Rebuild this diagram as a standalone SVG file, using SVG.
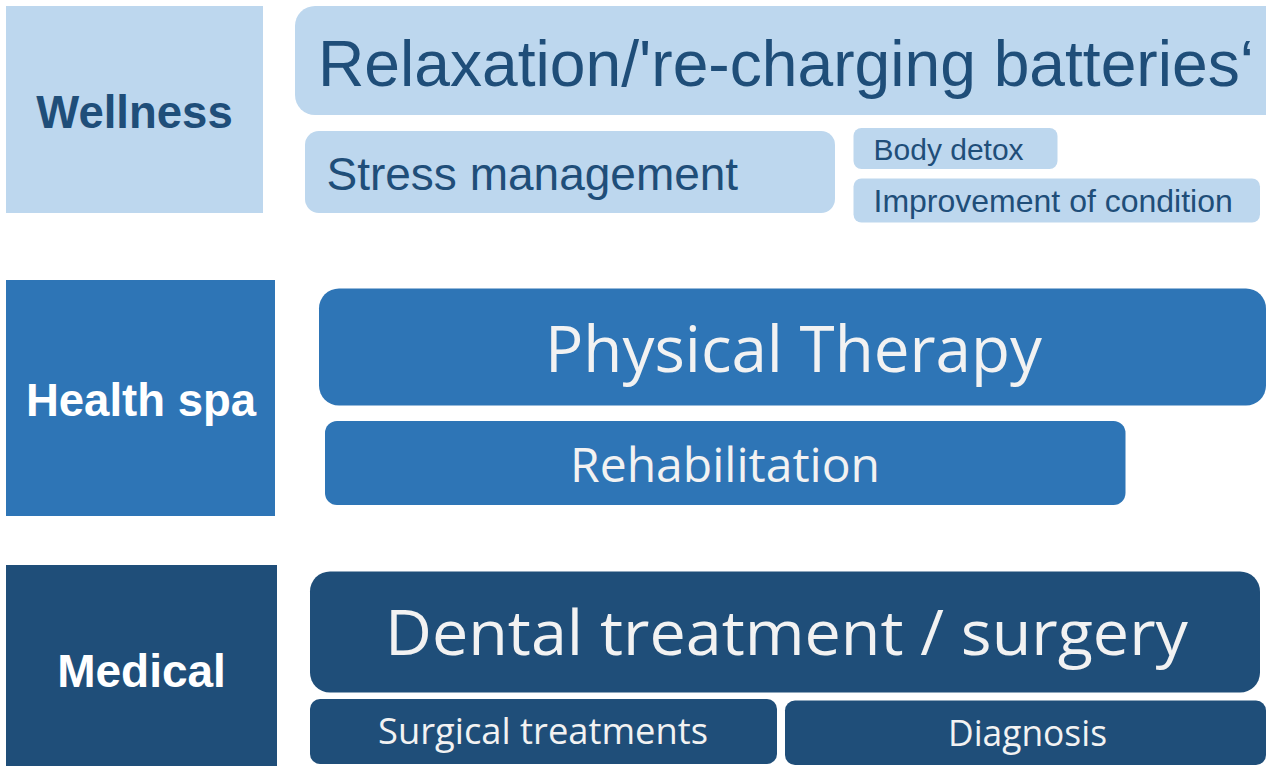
<svg xmlns="http://www.w3.org/2000/svg" width="1266" height="766" viewBox="0 0 1266 766">
  <style>
    .wel { fill: #BDD7EE; }
    .spa { fill: #2E75B6; }
    .med { fill: #1F4E79; }
    .head { font-family: "Liberation Sans", Arial, sans-serif; font-weight: bold; text-anchor: middle; }
    .arial { font-family: "Liberation Sans", Arial, sans-serif; fill: #1F4E79; }
    .soft { font-family: "Open Sans", "Noto Sans", sans-serif; fill: #F2F2F2; text-anchor: middle; }
  </style>
  <rect width="1266" height="766" fill="#FFFFFF"/>

  <!-- Wellness tier -->
  <g id="wellness">
    <rect class="wel" x="6" y="6" width="257" height="207"/>
    <text class="head" x="134.5" y="128" font-size="45.5" fill="#1F4E79">Wellness</text>
  </g>
  <g id="relaxation">
    <rect class="wel" x="295" y="6" width="1000" height="109" rx="20"/>
    <text class="arial" x="318" y="86" font-size="64" textLength="936" lengthAdjust="spacingAndGlyphs">Relaxation/'re-charging  batteries‘</text>
  </g>
  <g id="stress">
    <rect class="wel" x="305" y="131" width="530" height="82" rx="14"/>
    <text class="arial" x="326.5" y="190" font-size="46">Stress management</text>
  </g>
  <g id="detox">
    <rect class="wel" x="853.5" y="128" width="204" height="41" rx="8"/>
    <text class="arial" x="873.5" y="160" font-size="30">Body detox</text>
  </g>
  <g id="condition">
    <rect class="wel" x="853.5" y="178.5" width="406.5" height="44" rx="8"/>
    <text class="arial" x="873.5" y="212" font-size="32">Improvement of condition</text>
  </g>

  <!-- Health spa tier -->
  <g id="health-spa">
    <rect class="spa" x="6" y="280" width="269" height="236"/>
    <text class="head" x="141" y="415.5" font-size="45.5" fill="#FFFFFF">Health spa</text>
  </g>
  <g id="physical-therapy">
    <rect class="spa" x="319" y="288.5" width="947" height="117" rx="20"/>
    <text class="soft" x="793.5" y="372" font-size="64" textLength="497" lengthAdjust="spacingAndGlyphs">Physical Therapy</text>
  </g>
  <g id="rehabilitation">
    <rect class="spa" x="325" y="421" width="800.5" height="84" rx="12"/>
    <text class="soft" x="725" y="482" font-size="47" textLength="310" lengthAdjust="spacingAndGlyphs">Rehabilitation</text>
  </g>

  <!-- Medical tier -->
  <g id="medical">
    <rect class="med" x="6" y="565" width="271" height="210"/>
    <text class="head" x="141.5" y="686.5" font-size="46" fill="#FFFFFF">Medical</text>
  </g>
  <g id="dental">
    <rect class="med" x="310" y="571.5" width="950" height="121" rx="20"/>
    <text class="soft" x="786.5" y="655" font-size="63" textLength="803" lengthAdjust="spacingAndGlyphs">Dental treatment / surgery</text>
  </g>
  <g id="surgical">
    <rect class="med" x="310" y="699" width="467" height="65" rx="10"/>
    <text class="soft" x="543" y="744" font-size="37" textLength="330" lengthAdjust="spacingAndGlyphs">Surgical treatments</text>
  </g>
  <g id="diagnosis">
    <rect class="med" x="785" y="700.5" width="481" height="64.5" rx="10"/>
    <text class="soft" x="1027.5" y="746" font-size="37" textLength="159" lengthAdjust="spacingAndGlyphs">Diagnosis</text>
  </g>

  <g id="connectors"/>
</svg>
